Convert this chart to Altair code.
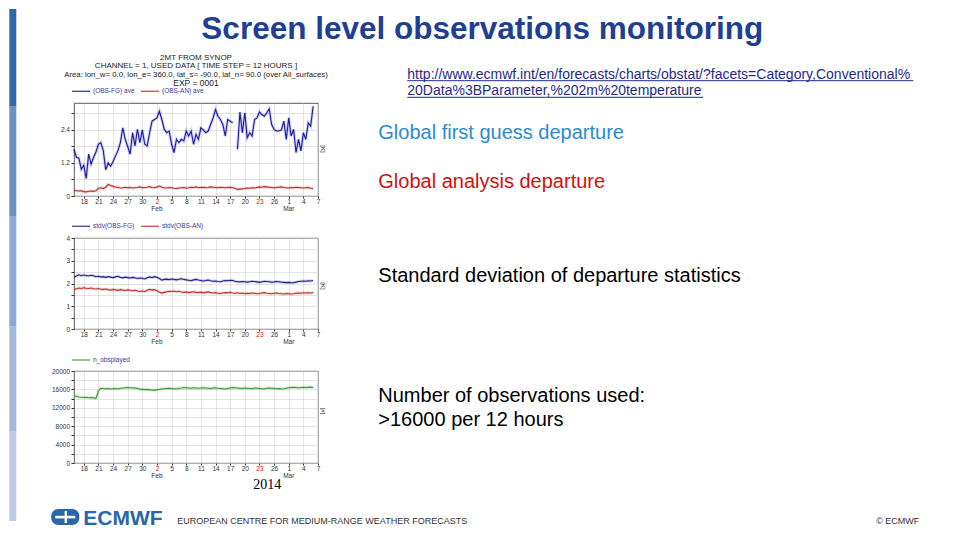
import altair as alt
import pandas as pd

# ------------------------------------------------------------------ data
# time axis: 12-hourly steps counted in days from 2014-01-16 00 UTC
n_points = 99
step_days = 0.5

fg_ave = [1.70, 1.40, 1.38, 0.97, 1.12, 0.64, 1.52, 1.16, 1.40, 1.60,
          1.88, 1.94, 1.65, 0.95, 1.20, 1.08, 1.25, 1.45, 1.65, 1.94,
          2.48, 2.06, 1.80, 1.52, 2.30, 1.82, 2.42, 1.94, 2.40, 1.88,
          1.82, 2.30, 2.72, 2.78, 2.84, 3.08, 2.78, 2.42, 2.30, 2.36,
          1.88, 1.58, 2.06, 1.94, 2.06, 2.00, 2.36, 2.18, 2.36, 1.88,
          2.24, 2.06, 2.48, 2.40, 2.30, 2.36, 2.60, 2.84, 3.14, 2.90,
          2.78, 2.60, 2.18, 2.78, 2.72, 2.66, None, 1.70, 3.05, 2.30,
          3.02, 2.12, 2.30, 2.18, 2.78, 2.84, 3.05, 2.96, 2.90, 3.02,
          3.17, 2.60, 2.42, 2.36, 2.36, 2.40, 2.72, 2.06, 2.84, 2.18,
          2.42, 1.58, 2.06, 1.64, 2.30, 2.06, 2.66, 2.54, 3.26]

an_ave = [0.20, 0.19, 0.18, 0.19, 0.16, 0.15, 0.17, 0.18, 0.17, 0.19,
          0.28, 0.30, 0.27, 0.32,
          0.42, 0.38, 0.35, 0.33,
          0.31, 0.29, 0.30, 0.32, 0.30, 0.31, 0.29, 0.30, 0.31, 0.33, 0.30, 0.31,
          0.32, 0.34, 0.31, 0.30, 0.33, 0.36, 0.32, 0.30, 0.29, 0.31, 0.30, 0.28,
          0.27, 0.29, 0.30, 0.31, 0.29, 0.30, 0.32, 0.31, 0.33, 0.30, 0.31, 0.32,
          0.30, 0.31, 0.33, 0.32, 0.31, 0.30, 0.32, 0.31, 0.30, 0.31, 0.32, 0.30,
          0.28, 0.24, 0.25, 0.26, 0.27, 0.29, 0.28, 0.30, 0.29, 0.31, 0.33, 0.32,
          0.34, 0.33, 0.32, 0.31, 0.30, 0.31, 0.32, 0.33, 0.31, 0.30, 0.29, 0.31,
          0.30, 0.32, 0.31, 0.30, 0.29, 0.30, 0.31, 0.28, 0.27]

fg_std = [2.28, 2.33, 2.38, 2.34, 2.37, 2.35, 2.33, 2.36, 2.34, 2.30, 2.32, 2.29,
          2.30, 2.27, 2.30, 2.28, 2.26, 2.29, 2.32, 2.27, 2.25, 2.28, 2.26, 2.24,
          2.27, 2.25, 2.22, 2.24, 2.23, 2.20, 2.25, 2.29, 2.26, 2.30, 2.27, 2.22,
          2.15, 2.18, 2.19, 2.17, 2.20, 2.18, 2.16, 2.19, 2.21, 2.18, 2.16, 2.14,
          2.12, 2.16, 2.18, 2.15, 2.13, 2.11, 2.13, 2.15, 2.12, 2.10, 2.11, 2.09,
          2.08, 2.11, 2.13, 2.12, 2.14, 2.13, 2.10, 2.08, 2.07, 2.09, 2.08, 2.06,
          2.08, 2.10, 2.09, 2.07, 2.05, 2.07, 2.10, 2.09, 2.08, 2.06, 2.07, 2.09,
          2.08, 2.06, 2.05, 2.04, 2.05, 2.03, 2.04, 2.06, 2.09, 2.10, 2.11, 2.10,
          2.12, 2.11, 2.13]

an_std = [1.74, 1.77, 1.80, 1.78, 1.81, 1.79, 1.78, 1.80, 1.77, 1.76, 1.78, 1.75,
          1.74, 1.76, 1.73, 1.71, 1.74, 1.72, 1.70, 1.73, 1.71, 1.69, 1.72, 1.70,
          1.68, 1.70, 1.67, 1.65, 1.67, 1.64, 1.70, 1.74, 1.71, 1.73, 1.68, 1.62,
          1.58, 1.61, 1.64, 1.66, 1.65, 1.67, 1.64, 1.66, 1.63, 1.61, 1.63, 1.60,
          1.62, 1.64, 1.61, 1.60, 1.62, 1.59, 1.61, 1.63, 1.60, 1.58, 1.60, 1.57,
          1.56, 1.58, 1.60, 1.59, 1.61, 1.58, 1.57, 1.59, 1.56, 1.58, 1.55, 1.57,
          1.56, 1.58, 1.57, 1.55, 1.56, 1.58, 1.60, 1.57, 1.56, 1.55, 1.57, 1.58,
          1.56, 1.55, 1.54, 1.56, 1.55, 1.54, 1.55, 1.57, 1.58, 1.57, 1.59, 1.58,
          1.59, 1.58, 1.60]

n_obs = [14600, 14500, 14350, 14300, 14250, 14300, 14200, 14250, 14150, 14050, 15600,
         16250, 16200, 16150, 16200, 16100, 16150, 16200, 16100, 16250, 16300, 16350,
         16400, 16350, 16300, 16350, 16200, 16050, 16000, 15950, 16000, 15900, 15850,
         15800, 15950, 16000, 16100, 16150, 16200, 16250, 16200, 16150, 16100, 16250,
         16300, 16400, 16350, 16300, 16250, 16350, 16300, 16250, 16300, 16350, 16300,
         16250, 16200, 16300, 16350, 16250, 16200, 16150, 16100, 16200, 16300, 16400,
         16350, 16300, 16250, 16200, 16300, 16250, 16200, 16150, 16300, 16250, 16200,
         16150, 16100, 16250, 16300, 16250, 16200, 16150, 16200, 16100, 16150, 16250,
         16350, 16400, 16450, 16400, 16350, 16400, 16450, 16400, 16450, 16500, 16400]

legend1 = ["(OBS-FG) ave", "(OBS-AN) ave"]
legend2 = ["stdv(OBS-FG)", "stdv(OBS-AN)"]
legend3 = ["n_obsplayed"]

# x ticks (days after 16 Jan 2014) and their labels
x_tick_days = [2, 5, 8, 11, 14, 17, 20, 23, 26, 29, 32, 35, 38, 41, 44, 47, 50]
x_tick_labels = ["18", "21", "24", "27", "30", "2", "5", "8", "11", "14", "17",
                 "20", "23", "26", "1", "4", "7"]
sunday_days = [17, 38]
month_days = [17, 44]
month_names = ["Feb", "Mar"]
x_domain = [0, 50]

y1_ticks = [0, 0.6, 1.2, 1.8, 2.4, 3.0]
y1_labeled = [0, 1.2, 2.4]
y2_ticks = [0, 0.5, 1, 1.5, 2, 2.5, 3, 3.5, 4]
y2_labeled = [0, 1, 2, 3, 4]
y3_ticks = [0, 2000, 4000, 6000, 8000, 10000, 12000, 14000, 16000, 18000, 20000]
y3_labeled = [0, 4000, 8000, 12000, 16000, 20000]

header_lines = ["2MT FROM SYNOP",
                "CHANNEL = 1, USED DATA [ TIME STEP = 12 HOURS ]",
                "Area: lon_w= 0.0, lon_e= 360.0, lat_s= -90.0, lat_n= 90.0 (over All_surfaces)",
                "EXP = 0001"]
slide_title = "Screen level observations monitoring"
url_lines = ["http://www.ecmwf.int/en/forecasts/charts/obstat/?facets=Category,Conventional%",
             "20Data%3BParameter,%202m%20temperature"]
note_fg = "Global first guess departure"
note_an = "Global analysis departure"
note_std = "Standard deviation of departure statistics"
note_n = ["Number of observations used:", ">16000 per 12 hours"]
year_label = "2014"
footer_org = "EUROPEAN CENTRE FOR MEDIUM-RANGE WEATHER FORECASTS"
footer_copy = "\u00a9 ECMWF"
logo_text = "ECMWF"

# ------------------------------------------------------------------ tables
days = [i * step_days for i in range(n_points)]
df1 = pd.DataFrame({"day": days * 2, "value": fg_ave + an_ave,
                    "series": [legend1[0]] * n_points + [legend1[1]] * n_points})
df2 = pd.DataFrame({"day": days * 2, "value": fg_std + an_std,
                    "series": [legend2[0]] * n_points + [legend2[1]] * n_points})
df3 = pd.DataFrame({"day": days, "value": n_obs, "series": [legend3[0]] * n_points})
dfm = pd.DataFrame({"day": month_days, "label": month_names})

# ------------------------------------------------------------------ style
FONT = "Liberation Sans"
W = 244
H1, H2, H3 = 93, 91, 92
GRID = "#d2d2d2"


def map_expr(keys, labels):
    e = "''"
    for k, l in reversed(list(zip(keys, labels))):
        e = f"datum.value == {k} ? '{l}' : {e}"
    return e


xscale = alt.Scale(domain=x_domain, nice=False, zero=False)
sun_test = " || ".join(f"datum.value == {d}" for d in sunday_days)
xaxis = alt.Axis(values=x_tick_days, labelExpr=map_expr(x_tick_days, x_tick_labels),
                 title=None, labelFontSize=6.5, labelFont=FONT,
                 labelColor={"condition": {"test": sun_test, "value": "#cc1111"},
                             "value": "#333333"},
                 tickSize=2, tickColor="#333", labelPadding=0.5, domain=False,
                 grid=True, gridColor=GRID, gridWidth=0.6,
                 labelOverlap=False, labelFlush=False)


def yaxis(ticks, labeled):
    return alt.Axis(values=ticks, labelExpr=map_expr(labeled, labeled), title=None,
                    labelFontSize=6.5, labelFont=FONT, labelColor="#333",
                    tickSize=3, tickColor="#333", labelPadding=1.5, domain=False,
                    grid=True, gridColor=GRID, gridWidth=0.6, labelOverlap=False)


def legend(ly):
    return alt.Legend(orient="none", legendX=-3, legendY=ly, direction="horizontal",
                      title=None, symbolType="stroke", symbolSize=330,
                      symbolStrokeWidth=1.1, symbolOpacity=1,
                      labelFontSize=6.5, labelFont=FONT,
                      labelColor="#3a3a9a", columnPadding=3, labelOffset=2,
                      padding=0, rowPadding=0)


EMPTY = alt.Data(values=[{}])


def txt(s, x, y, size=8, color="#000", align="left", weight="normal",
        font=FONT, baseline="alphabetic", angle=None):
    kw = dict(align=align, baseline=baseline, fontSize=size, color=color,
              font=font, fontWeight=weight)
    if angle is not None:
        kw["angle"] = angle
    return alt.Chart(EMPTY).mark_text(**kw).encode(
        x=alt.value(x), y=alt.value(y), text=alt.value(s))


def box(x, x2, y, y2, color, **kw):
    return alt.Chart(EMPTY).mark_rect(color=color, **kw).encode(
        x=alt.value(x), x2=alt.value(x2), y=alt.value(y), y2=alt.value(y2))


def hline(x, x2, y, color, width=1):
    return alt.Chart(EMPTY).mark_rule(color=color, strokeWidth=width).encode(
        x=alt.value(x), x2=alt.value(x2), y=alt.value(y))


def panel(df, ydomain, yt, yl, names, colors, ly, h):
    cscale = alt.Scale(domain=names, range=colors)
    base = alt.Chart(df).encode(
        x=alt.X("day:Q", scale=xscale, axis=xaxis),
        y=alt.Y("value:Q", scale=alt.Scale(domain=ydomain, nice=False, zero=False),
                axis=yaxis(yt, yl)),
        color=alt.Color("series:N", scale=cscale, legend=legend(ly)),
    )
    line = base.mark_line(strokeWidth=1.1)
    halo = base.mark_line(strokeWidth=3, opacity=0.2)
    months = alt.Chart(dfm).mark_text(fontSize=6.5, font=FONT, color="#333",
                                      baseline="middle").encode(
        x=alt.X("day:Q", scale=xscale, axis=xaxis), y=alt.value(h + 12.5),
        text="label:N")
    return [line, halo, months]


# ------------------------------------------------------------------ panel 1 (+ slide decoration)
strip_cols = ["#3268a6", "#6d8fc4", "#8fa8d3", "#a7badd", "#bfcbe6"]
strip_y = [-94, 3, 113, 223, 328, 418]
strip = [box(-64.7, -57.7, strip_y[i], strip_y[i + 1], strip_cols[i]) for i in range(5)]

p1_layers = panel(df1, [0, 3.38], y1_ticks, y1_labeled, legend1,
                  ["#1a1aa6", "#c32b2b"], -22, H1)
hdr_y = [-45, -36.7, -28.3, -20]
hdr_size = [8, 8, 7.8, 8.5]
hdr = [txt(s, W / 2, y, size=z, color="#222", align="center", baseline="middle")
       for s, y, z in zip(header_lines, hdr_y, hdr_size)]
deco1 = strip + [
    txt(slide_title, 408.3, -63.7, size=31.5, color="#1f3f93", align="center", weight="bold"),
    txt(url_lines[0], 333.3, -24.3, size=14, color="#1f2a8a"),
    txt(url_lines[1], 333.3, -7.7, size=14, color="#1f2a8a"),
    hline(333.3, 839.3, -22.3, "#1f2a8a"),
    hline(333.3, 629.3, -5.7, "#1f2a8a"),
    txt(note_fg, 304.3, 36.3, size=20, color="#2b8cd0"),
    txt(note_an, 304.3, 84.7, size=20, color="#d01010"),
    txt("[K]", W + 5, 46, size=6, color="#222", align="center", baseline="middle", angle=90),
]
p1 = alt.layer(*(p1_layers + hdr + deco1)).properties(width=W, height=H1)

# ------------------------------------------------------------------ panel 2
p2_layers = panel(df2, [0, 4], y2_ticks, y2_labeled, legend2,
                  ["#22228f", "#c23030"], -22, H2)
deco2 = [
    txt(note_std, 304.3, 43.5, size=20, color="#000"),
    txt("[K]", W + 5, 48, size=6, color="#222", align="center", baseline="middle", angle=90),
]
p2 = alt.layer(*(p2_layers + deco2)).properties(width=W, height=H2)

# ------------------------------------------------------------------ panel 3 (+ footer)
p3_layers = panel(df3, [0, 20000], y3_ticks, y3_labeled, legend3,
                  ["#3a9a3a"], -21, H3)
deco3 = [
    txt(note_n[0], 304.3, 30.5, size=20, color="#000"),
    txt(note_n[1], 304.3, 54.5, size=20, color="#000"),
    txt("[#]", W + 5, 40, size=6, color="#222", align="center", baseline="middle", angle=90),
    txt(year_label, 193.3, 117.7, size=14, color="#000", align="center",
        font="Liberation Serif"),
    box(-22.7, 5.3, 138, 154, "#2a67a8", cornerRadius=7),
    box(-18.7, 1.3, 144.8, 147.4, "#ffffff"),
    box(-9.4, -7.0, 140, 152, "#ffffff"),
    txt(logo_text, 9.3, 154, size=21, color="#2a67a8", weight="bold"),
    txt(footer_org, 103.3, 150, size=9, color="#333", baseline="middle"),
    txt(footer_copy, 845.3, 150, size=9, color="#333", align="right", baseline="middle"),
]
p3 = alt.layer(*(p3_layers + deco3)).properties(width=W, height=H3)

chart = (
    alt.vconcat(p1, p2, p3, spacing=42, bounds="flush")
    .resolve_scale(color="independent")
    .resolve_legend(color="independent")
    .properties(padding=0)
    .configure(font=FONT, background="white")
    .configure_view(stroke="#333", strokeWidth=0.8)
)

chart.save("out.html", embed_options={"renderer": "svg", "actions": False})
